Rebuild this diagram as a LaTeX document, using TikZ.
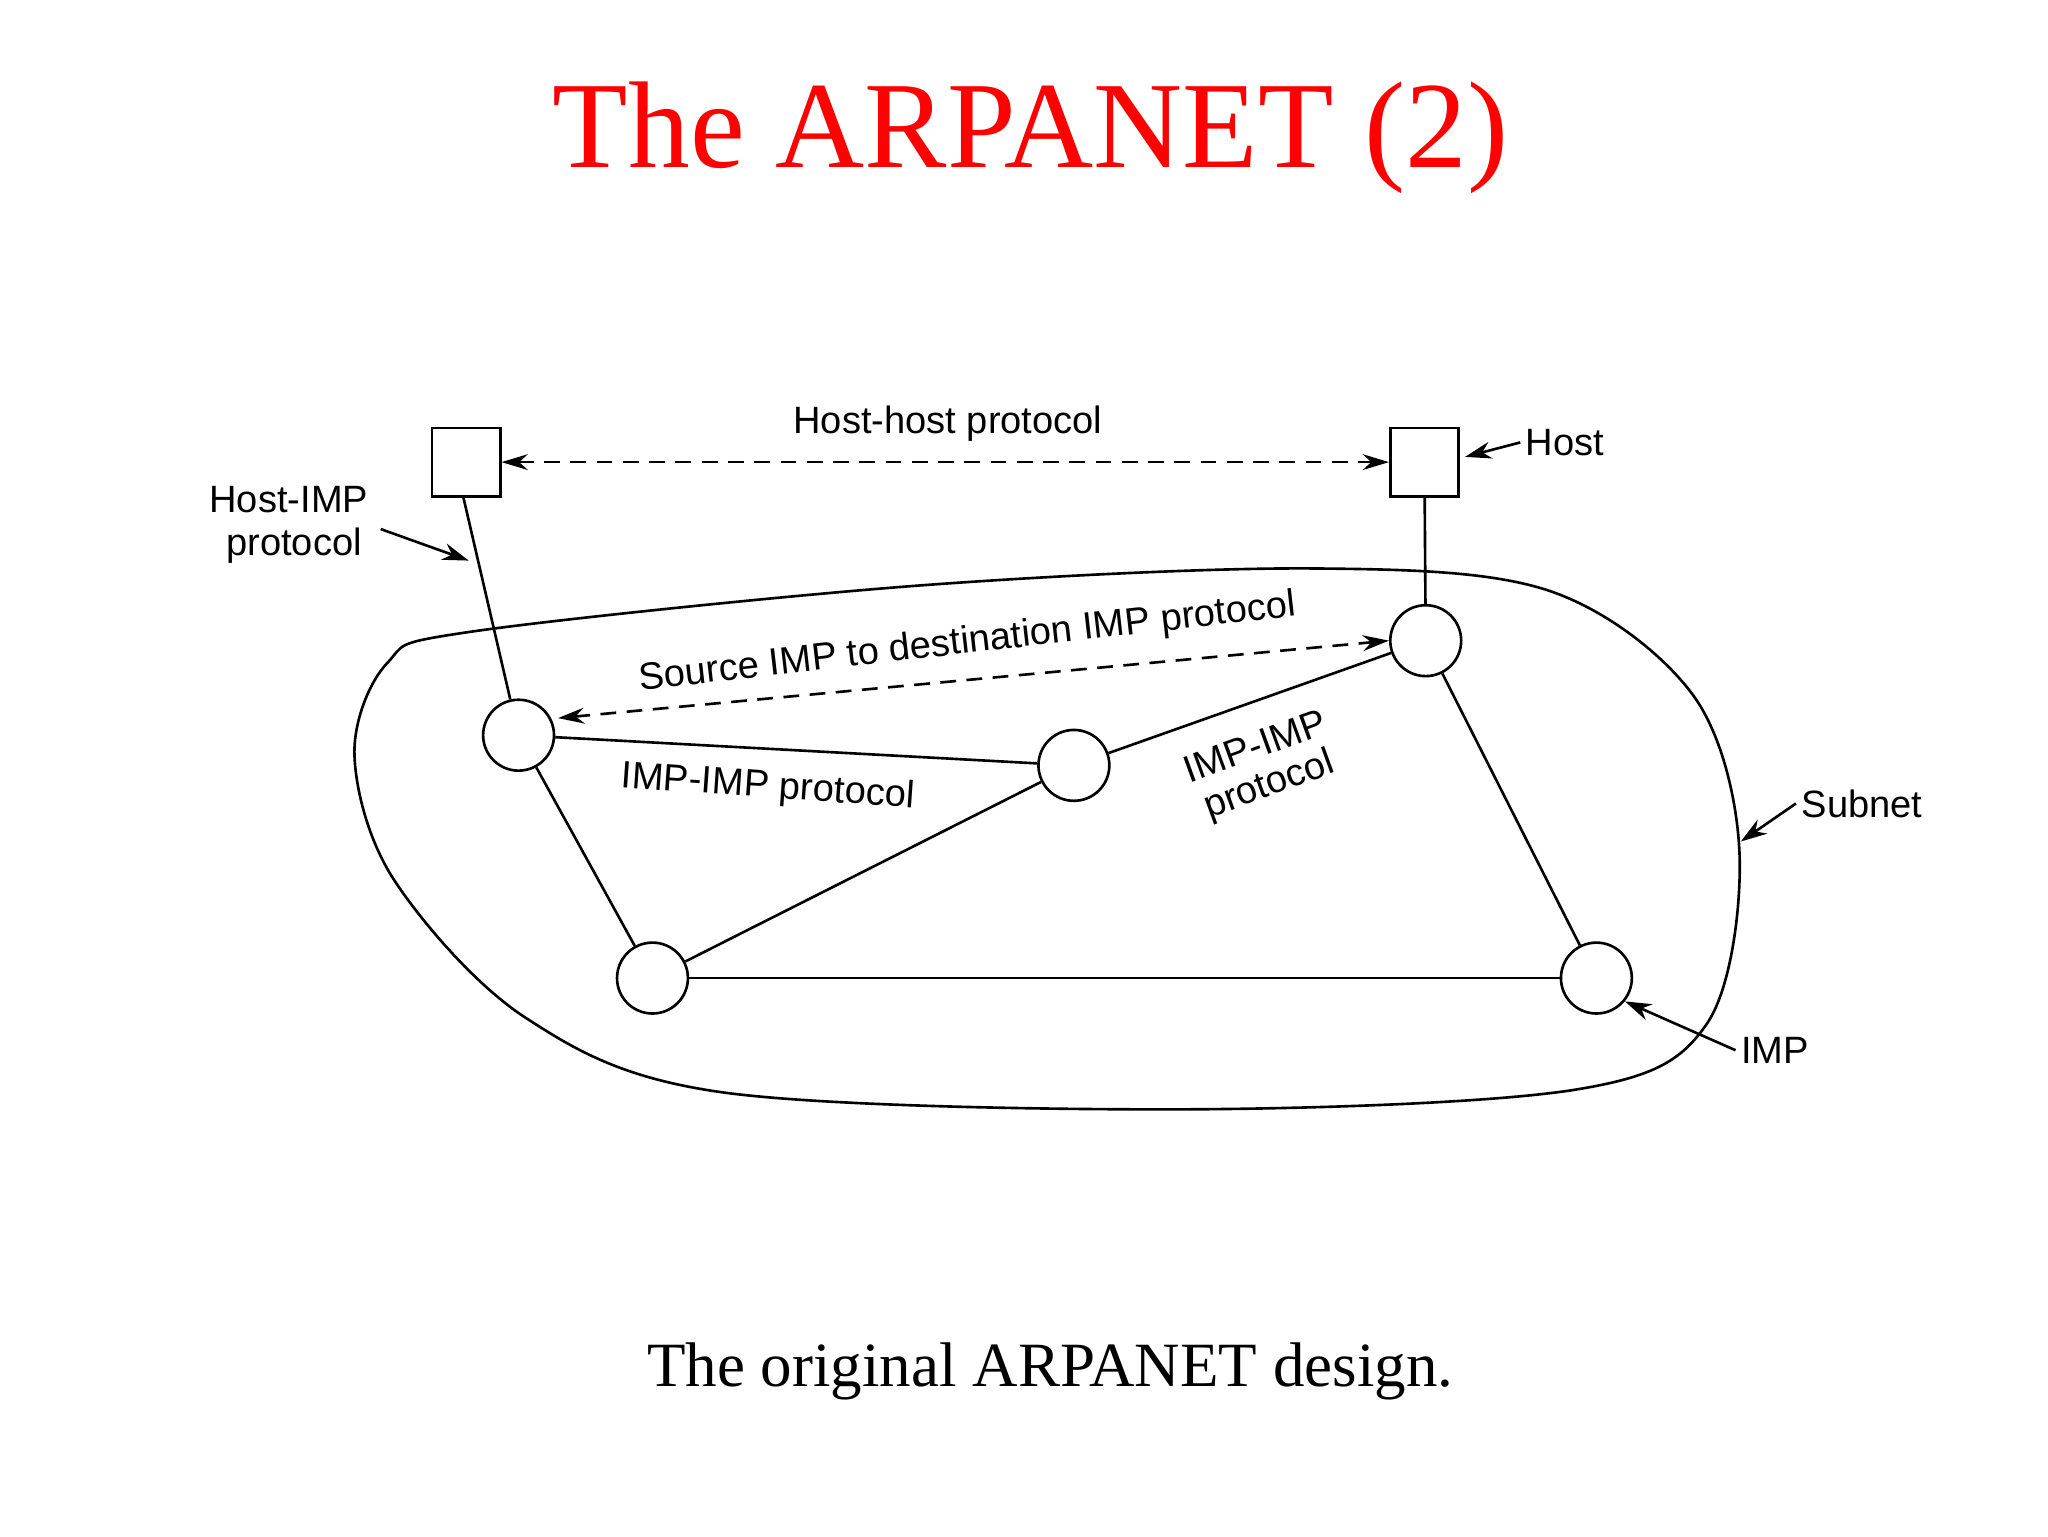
\documentclass[tikz,border=0pt]{standalone}
\usepackage{fontspec}
\setmainfont{Liberation Sans}
\newfontfamily\serif{Liberation Serif}
\usetikzlibrary{arrows.meta}
\begin{document}
\begin{tikzpicture}[x=1pt,y=-1pt,line width=2pt,
  imp/.style={circle,draw,minimum size=54pt,inner sep=0pt},
  host/.style={rectangle,draw,minimum size=52pt,inner sep=0pt},
  lbl/.style={font=\fontsize{29}{33}\selectfont,align=center},
  arr/.style={-{Stealth[length=20pt,width=13pt]}},
  dash2/.style={dashed,dash pattern=on 12pt off 8pt,{Stealth[length=20pt,width=12pt]}-{Stealth[length=20pt,width=12pt]}}]
\useasboundingbox (0,0) rectangle (1560,1170);
\node[text=red,font=\serif\fontsize{94}{104}\selectfont] (title) at (785,105) {The ARPANET (2)};
\node[font=\serif\fontsize{48}{54}\selectfont] (cap) at (800,1045) {The original ARPANET design.};
\draw[line width=2pt] plot[smooth cycle,tension=0.55] coordinates {(360,481) (700,446) (1000,433) (1180,450) (1290,530) (1325,650) (1300,780) (1200,830) (900,845) (550,832) (400,775) (300,670) (270,575) (295,505)};
\node[host,fill=white] (h1) at (355,352) {};
\node[host,fill=white] (h2) at (1085,352) {};
\node[imp,fill=white] (a) at (395,560) {};
\node[imp,fill=white] (b) at (818,583) {};
\node[imp,fill=white] (c) at (1086,488) {};
\node[imp,fill=white] (d) at (497,745) {};
\node[imp,fill=white] (e) at (1216,745) {};
\draw ([xshift=-2pt]h1.south) -- (a);
\draw (h2) -- (c);
\draw (a) -- (b); \draw (b) -- (c); \draw (a) -- (d); \draw (d) -- (b);
\draw (d) -- (e); \draw (c) -- (e);
\draw[dash2] (h1.east) -- (h2.west);
\node[lbl] (hh) at (722,323) {Host-host protocol};
\draw[dash2] ([xshift=2pt,yshift=13pt]a.east) -- (c.west);
\node[lbl,rotate=6.5] (si) at (737,490) {Source IMP to destination IMP protocol};
\node[lbl,rotate=-4] (ii) at (585,600) {IMP-IMP protocol};
\node[lbl,rotate=20,font=\fontsize{29}{30}\selectfont] (ii2) at (962,585) {IMP-IMP\\protocol};
\node[lbl] (hi) at (220,400) {Host-IMP\\\ protocol};
\coordinate (hit) at (357,427);
\draw[arr] (290,403) -- (hit);
\node[lbl,anchor=west] (hl) at (1158,337) {Host};
\draw[arr] (hl.west) -- ([xshift=4pt,yshift=4pt]h2.east);
\node[lbl,anchor=west] (sl) at (1368,612) {Subnet};
\draw[arr] (sl.west) -- (1326,641);
\node[lbl,anchor=west] (il) at (1322,800) {IMP};
\draw[arr] (il.west) -- ([xshift=2pt,yshift=2pt]e.south east);
\end{tikzpicture}
\end{document}
